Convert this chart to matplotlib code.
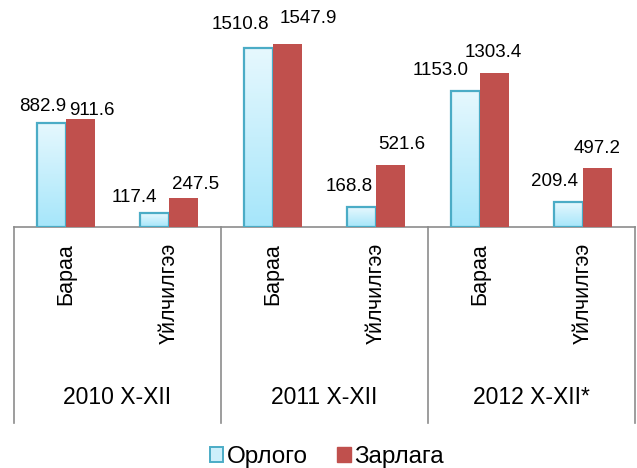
import numpy as np
import matplotlib
matplotlib.use('Agg')
import matplotlib.pyplot as plt
import matplotlib.transforms as mtransforms
from matplotlib.patches import Patch

plt.rcParams['font.family'] = ['Liberation Sans', 'DejaVu Sans']

years = ['2010 X-XII', '2011 X-XII', '2012 X-XII*']
kinds = ['Бараа', 'Үйлчилгээ']
orlogo = [882.9, 117.4, 1510.8, 168.8, 1153.0, 209.4]
zarlaga = [911.6, 247.5, 1547.9, 521.6, 1303.4, 497.2]
series_names = ['Орлого', 'Зарлага']

# label nudges in pixels (Excel labels were moved by hand)
orlogo_off = [(-9, 16), (-20, 16), (-18, 24), (-13, 21), (-25, 20), (-14, 21)]
zarlaga_off = [(12, 9), (12, 13), (21, 25), (11, 21), (-1, 20), (-1, 20)]

W, H = 637, 468
fig = plt.figure(figsize=(W / 100, H / 100), dpi=100)
ax = fig.add_axes([14 / W, 1 - 227 / H, 621 / W, 227 / H])

x = np.arange(len(orlogo))
bw = 0.28
red = '#C0504D'
edge = '#4BACC6'
grey = '#8C8C8C'

# gradient fill for the light series
grad = np.linspace(0, 1, 64).reshape(-1, 1)
cmap = matplotlib.colors.LinearSegmentedColormap.from_list('g', ['#E6F8FE', '#A6E6FA'])
for xi, v in zip(x, orlogo):
    ax.imshow(grad, extent=[xi - bw, xi, 0, v], aspect='auto', cmap=cmap,
              origin='upper', zorder=2)
ax.bar(x - bw / 2, orlogo, bw, facecolor='none', edgecolor=edge, linewidth=1.6, zorder=3)
ax.bar(x + bw / 2, zarlaga, bw, color=red, zorder=3)

for xi, v, (dx, dy) in zip(x, orlogo, orlogo_off):
    ax.annotate('%.1f' % v, (xi - bw / 2, v), xytext=(dx, dy), textcoords='offset pixels',
                ha='center', va='center', fontsize=13.5)
for xi, v, (dx, dy) in zip(x, zarlaga, zarlaga_off):
    ax.annotate('%.1f' % v, (xi + bw / 2, v), xytext=(dx, dy), textcoords='offset pixels',
                ha='center', va='center', fontsize=13.5)

ax.set_xlim(-0.5, 5.5)
ax.set_ylim(0, 1919)
for s in ['top', 'right', 'left']:
    ax.spines[s].set_visible(False)
ax.spines['bottom'].set_color(grey)
ax.spines['bottom'].set_linewidth(1.2)
ax.set_xticks([])
ax.set_yticks([])

tr = mtransforms.blended_transform_factory(ax.transData, fig.transFigure)
for bx in [-0.5, 1.5, 3.5, 5.5]:
    ax.plot([bx, bx], [1 - 227 / H, 1 - 423 / H], color=grey, lw=1.2,
            transform=tr, clip_on=False)

for i in range(len(orlogo)):
    ax.text(i, 1 - 243 / H, kinds[i % 2], rotation=90, ha='center', va='top',
            fontsize=15.5, transform=tr)
for j, yr in enumerate(years):
    ax.text(2 * j + 0.5, 1 - 398 / H, yr, ha='center', va='center',
            fontsize=16.5, transform=tr)

handles = [Patch(facecolor='#CDEFFB', edgecolor=edge, linewidth=1.4),
           Patch(facecolor=red, edgecolor=red)]
fig.legend(handles, series_names, loc='center', bbox_to_anchor=(327 / W, 1 - 457 / H),
           ncol=2, frameon=False, fontsize=17.5, handlelength=0.55, handleheight=0.55,
           handletextpad=0.15, columnspacing=1.2)

fig.savefig('out.png', dpi=100)
